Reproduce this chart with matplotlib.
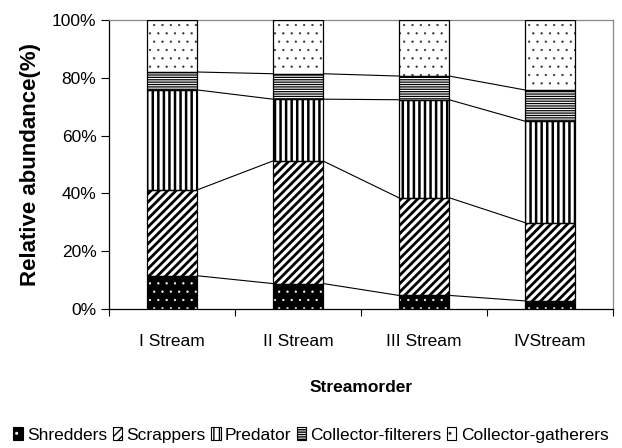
import matplotlib.pyplot as plt
import numpy as np
from matplotlib.patches import Patch
from matplotlib.legend_handler import HandlerTuple

plt.rcParams['font.family'] = ['Liberation Sans', 'DejaVu Sans']

streams = ['I Stream', 'II Stream', 'III Stream', 'IVStream']
groups = ['Shredders', 'Scrappers', 'Predator', 'Collector-filterers', 'Collector-gatherers']

# relative abundance per functional feeding group (%)
shredders = [11.5, 8.8, 4.7, 2.8]
scrappers = [29.7, 42.4, 33.8, 27.1]
predator = [34.6, 21.4, 33.9, 35.1]
filterers = [6.2, 8.8, 8.2, 10.8]
gatherers = [18.0, 18.6, 19.4, 24.2]

series = [shredders, scrappers, predator, filterers, gatherers]
# (face, hatch colour, hatch, hatch width)
styles = [
    ('black', 'white', '..', 0.4),
    ('white', 'black', '////', 2.0),
    ('white', 'black', '|||', 1.8),
    ('white', 'black', '-------', 0.9),
    ('white', '#333333', '..', 0.4),
]


def hatch_width(patch, lw):
    if hasattr(patch, 'set_hatch_linewidth'):
        patch.set_hatch_linewidth(lw)
    else:
        patch._hatch_linewidth = lw


fig = plt.figure(figsize=(6.22, 4.48), dpi=100)
ax = fig.add_axes([0.1752, 0.3103, 0.8103, 0.6451])

x = np.arange(len(streams))
w = 0.4
bottom = np.zeros(len(streams))
tops = []
for vals, (fc, hc, h, hlw) in zip(series, styles):
    vals = np.array(vals)
    with plt.rc_context({'hatch.linewidth': hlw}):
        bars = ax.bar(x, vals, w, bottom=bottom, color=fc, edgecolor=hc, hatch=h,
                      linewidth=0, zorder=2)
    for b in bars:
        hatch_width(b, hlw)
    ax.bar(x, vals, w, bottom=bottom, fill=False, edgecolor='black', linewidth=0.9, zorder=3)
    bottom = bottom + vals
    tops.append(bottom.copy())

# series lines joining the segment boundaries between neighbouring bars
for level in tops[:-1]:
    for i in range(len(streams) - 1):
        ax.plot([x[i] + w / 2, x[i + 1] - w / 2], [level[i], level[i + 1]],
                color='black', linewidth=0.8, zorder=1)

ax.set_xlim(-0.5, len(streams) - 0.5)
ax.set_ylim(0, 100)
ax.set_yticks(range(0, 101, 20))
ax.set_yticklabels([f'{v}%' for v in range(0, 101, 20)], fontsize=12.5)
ax.set_xticks(np.arange(-0.5, len(streams), 1.0))
ax.set_xticklabels([])
ax.set_xticks(x, minor=True)
ax.set_xticklabels(streams, minor=True, fontsize=12.5)
ax.tick_params(axis='x', which='minor', length=0, pad=18)
ax.tick_params(axis='x', which='major', length=5, direction='out')
ax.tick_params(axis='y', length=6, direction='out', pad=3)
for s in ax.spines.values():
    s.set_linewidth(0.9)
ax.spines['top'].set_color('#888888')
ax.spines['right'].set_color('#888888')

ax.set_ylabel('Relative abundance(%)', fontsize=16, fontweight='bold', labelpad=8)
ax.set_xlabel('Streamorder', fontsize=12.5, fontweight='bold', labelpad=22)

# legend keys: hatched fill with a black outline drawn on top
handles = []
for fc, hc, h, hlw in styles:
    fill = Patch(facecolor=fc, edgecolor=hc, hatch=h, linewidth=0)
    hatch_width(fill, hlw)
    outline = Patch(fill=False, edgecolor='black', linewidth=0.8)
    handles.append((fill, outline))
fig.legend(handles, groups, loc='center', bbox_to_anchor=(0.5, 0.029), ncol=5,
           frameon=False, fontsize=12.5, handlelength=0.55, handleheight=0.8,
           handletextpad=0.25, columnspacing=0.3,
           handler_map={tuple: HandlerTuple(ndivide=1)})

fig.savefig('out.png', dpi=100)
